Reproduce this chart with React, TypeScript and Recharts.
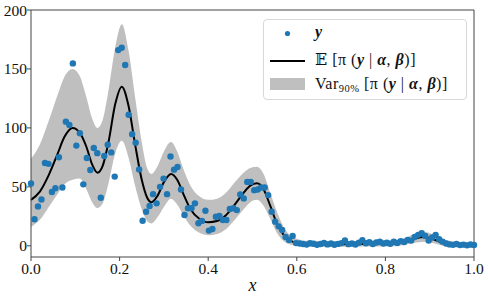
import React from 'react';
import { ComposedChart, Area, Line, Scatter, XAxis, YAxis, ReferenceLine } from 'recharts';

// observed counts, evenly spaced on [0, 1]
const POINT_Y = [
  52.8, 22.5, 33.4, 39.3, 70.2, 69.5, 45.6, 48.8, 75.1, 49.4,
  105.3, 102.5, 154.7, 85.0, 95.5, 52.1, 74.5, 64.3, 83.0, 78.6,
  40.8, 76.2, 85.8, 79.2, 58.7, 166.0, 168.0, 153.3, 111.2, 94.7,
  87.5, 64.8, 21.3, 28.9, 33.7, 43.8, 36.0, 50.0, 57.0, 43.8,
  75.8, 64.6, 66.8, 47.8, 26.1, 31.8, 31.8, 36.0, 19.1, 21.1,
  29.7, 12.9, 14.3, 24.7, 25.3, 21.9, 21.9, 31.2, 31.8, 30.3,
  43.5, 40.2, 54.2, 54.2, 47.2, 47.8, 49.4, 49.4, 43.0, 28.9,
  20.5, 16.5, 13.5, 7.5, 5.0, 8.4, 2.3, 2.0, 1.5, 1.0,
  2.2, 1.8, 0.8, 1.5, 2.4, 1.2, 1.9, 0.9, 1.6, 2.3,
  4.5, 1.4, 2.0, 1.1, 2.6, 4.8, 2.2, 3.0, 1.5, 2.8,
  3.4, 2.0, 2.6, 1.8, 3.5, 2.4, 4.0, 3.2, 5.0, 4.4,
  7.5, 9.3, 10.7, 8.4, 4.5, 7.0, 9.3, 5.5, 3.5, 2.0,
  1.2, 0.8, 1.5, 0.6, 1.0, 0.4, 1.1, 0.7,
];

// posterior mean and 90% band
const CURVE_X = [
  0, 0.02, 0.04, 0.06, 0.075, 0.094, 0.11, 0.125, 0.138, 0.15,
  0.162, 0.175, 0.19, 0.205, 0.22, 0.235, 0.25, 0.262, 0.272, 0.285,
  0.3, 0.316, 0.33, 0.345, 0.36, 0.38, 0.4, 0.42, 0.44, 0.46,
  0.48, 0.495, 0.51, 0.525, 0.54, 0.555, 0.57, 0.585, 0.6, 0.62,
  0.7, 0.8, 0.84, 0.865, 0.887, 0.905, 0.93, 0.96, 1.0,
];
const CURVE_MEAN = [
  39, 46, 60, 78, 92, 100, 96, 84, 69, 62,
  68, 88, 120, 135, 119, 86, 56, 41, 37, 42,
  54, 61, 56, 43, 31, 23, 20, 21, 26, 35,
  45, 51, 53, 48, 34, 19, 9.5, 4.5, 2.5, 1.7,
  1.4, 1.6, 3, 6, 7.5, 6, 2.5, 1, 0.4,
];
const CURVE_LOW = [
  16, 22, 33, 44, 52, 56, 57, 48, 37, 32,
  36, 53, 78, 89, 75, 51, 31, 21, 19, 24,
  33, 40, 35, 25, 17, 11, 9, 10, 14, 22,
  31, 37, 39, 34, 23, 11, 4, 1, 0, -0.5,
  -0.7, -0.6, 0.5, 2.5, 3.5, 2.5, 0, -1, -1.5,
];
const CURVE_HIGH = [
  74, 86, 106, 128, 143, 150, 144, 126, 108, 100,
  107, 132, 168, 188, 166, 126, 88, 66, 61, 67,
  80, 88, 80, 64, 51, 42, 39, 40, 45, 54,
  62, 66, 67, 61, 45, 29, 16, 9, 6, 4.2,
  3.8, 4.2, 6, 10, 12, 10, 5.5, 3.5, 2.5,
];

const X_TICKS = [0, 0.2, 0.4, 0.6, 0.8, 1.0];
const Y_TICKS = [0, 50, 100, 150, 200];

const points = POINT_Y.map((y, i) => ({ x: i / (POINT_Y.length - 1), y }));
const curve = CURVE_X.map((x, i) => ({
  x,
  mean: CURVE_MEAN[i],
  band: [CURVE_LOW[i], CURVE_HIGH[i]],
}));

const BLUE = '#1f77b4';
const GREY = '#bfbfbf';
const AXIS = '#444';
const FONT = '"Liberation Serif", "DejaVu Serif", serif';

const Dot = (props: any) => <circle cx={props.cx} cy={props.cy} r={3.2} fill={BLUE} />;

const Math = ({ children }: { children: React.ReactNode }) => (
  <b style={{ fontStyle: 'italic' }}>{children}</b>
);

const PiTerm = () => (
  <span>
    [π (<Math>y</Math> | <Math>α</Math>, <Math>β</Math>)]
  </span>
);

const App = () => {
  const tickStyle = { fontSize: 15.5, fill: '#111' };
  return (
    <div
      className="plot"
      style={{
        position: 'absolute',
        left: 0,
        top: 0,
        width: 488,
        height: 299,
        background: '#fff',
        fontFamily: FONT,
      }}
    >
      <style>{`.plot text, .plot tspan { font-family: ${FONT} !important; }`}</style>
      <ComposedChart
        width={488}
        height={299}
        data={curve}
        margin={{ top: 10, right: 14, bottom: 0, left: 0 }}
      >
        <XAxis
          dataKey="x"
          type="number"
          domain={[0, 1]}
          ticks={X_TICKS}
          tickFormatter={(v: number) => v.toFixed(1)}
          height={42}
          tickSize={4}
          tickMargin={2}
          stroke={AXIS}
          tick={tickStyle}
          label={{
            value: 'x',
            position: 'insideBottom',
            offset: 8,
            fontSize: 18,
            fontStyle: 'italic',
            fill: '#111',
          }}
        />
        <YAxis
          type="number"
          domain={[-9.5, 200]}
          ticks={Y_TICKS}
          width={31}
          tickSize={4}
          tickMargin={0}
          stroke={AXIS}
          tick={tickStyle}
          allowDataOverflow
        />
        <Area
          dataKey="band"
          type="monotone"
          stroke="none"
          fill={GREY}
          fillOpacity={1}
          isAnimationActive={false}
        />
        <Scatter data={points} dataKey="y" shape={Dot} isAnimationActive={false} />
        <Line
          dataKey="mean"
          type="monotone"
          stroke="#000"
          strokeWidth={2}
          dot={false}
          isAnimationActive={false}
        />
        <ReferenceLine y={200} stroke={AXIS} />
        <ReferenceLine x={1} stroke={AXIS} />
      </ComposedChart>

      {/* legend */}
      <div
        style={{
          position: 'absolute',
          left: 263,
          top: 19,
          width: 202,
          height: 79,
          border: '1px solid #d8d8d8',
          borderRadius: 4,
          background: 'rgba(255,255,255,0.8)',
          fontSize: 16,
          letterSpacing: 0.5,
          color: '#111',
        }}
      >
        <svg width={202} height={79} style={{ position: 'absolute', left: 0, top: 0 }}>
          <circle cx={23.5} cy={13.5} r={2.6} fill={BLUE} />
          <line x1={6} x2={41} y1={41} y2={41} stroke="#000" strokeWidth={2} />
          <rect x={6} y={58} width={35} height={12} fill={GREY} />
        </svg>
        <div style={{ position: 'absolute', left: 51, top: 3, lineHeight: '18px', whiteSpace: 'nowrap' }}>
          <Math>y</Math>
        </div>
        <div style={{ position: 'absolute', left: 51, top: 31, lineHeight: '18px', whiteSpace: 'nowrap' }}>
          𝔼 <PiTerm />
        </div>
        <div style={{ position: 'absolute', left: 51, top: 55, lineHeight: '18px', whiteSpace: 'nowrap' }}>
          Var<sub style={{ fontSize: 10.5, verticalAlign: -3 }}>90%</sub> <PiTerm />
        </div>
      </div>
    </div>
  );
};

export default App;
